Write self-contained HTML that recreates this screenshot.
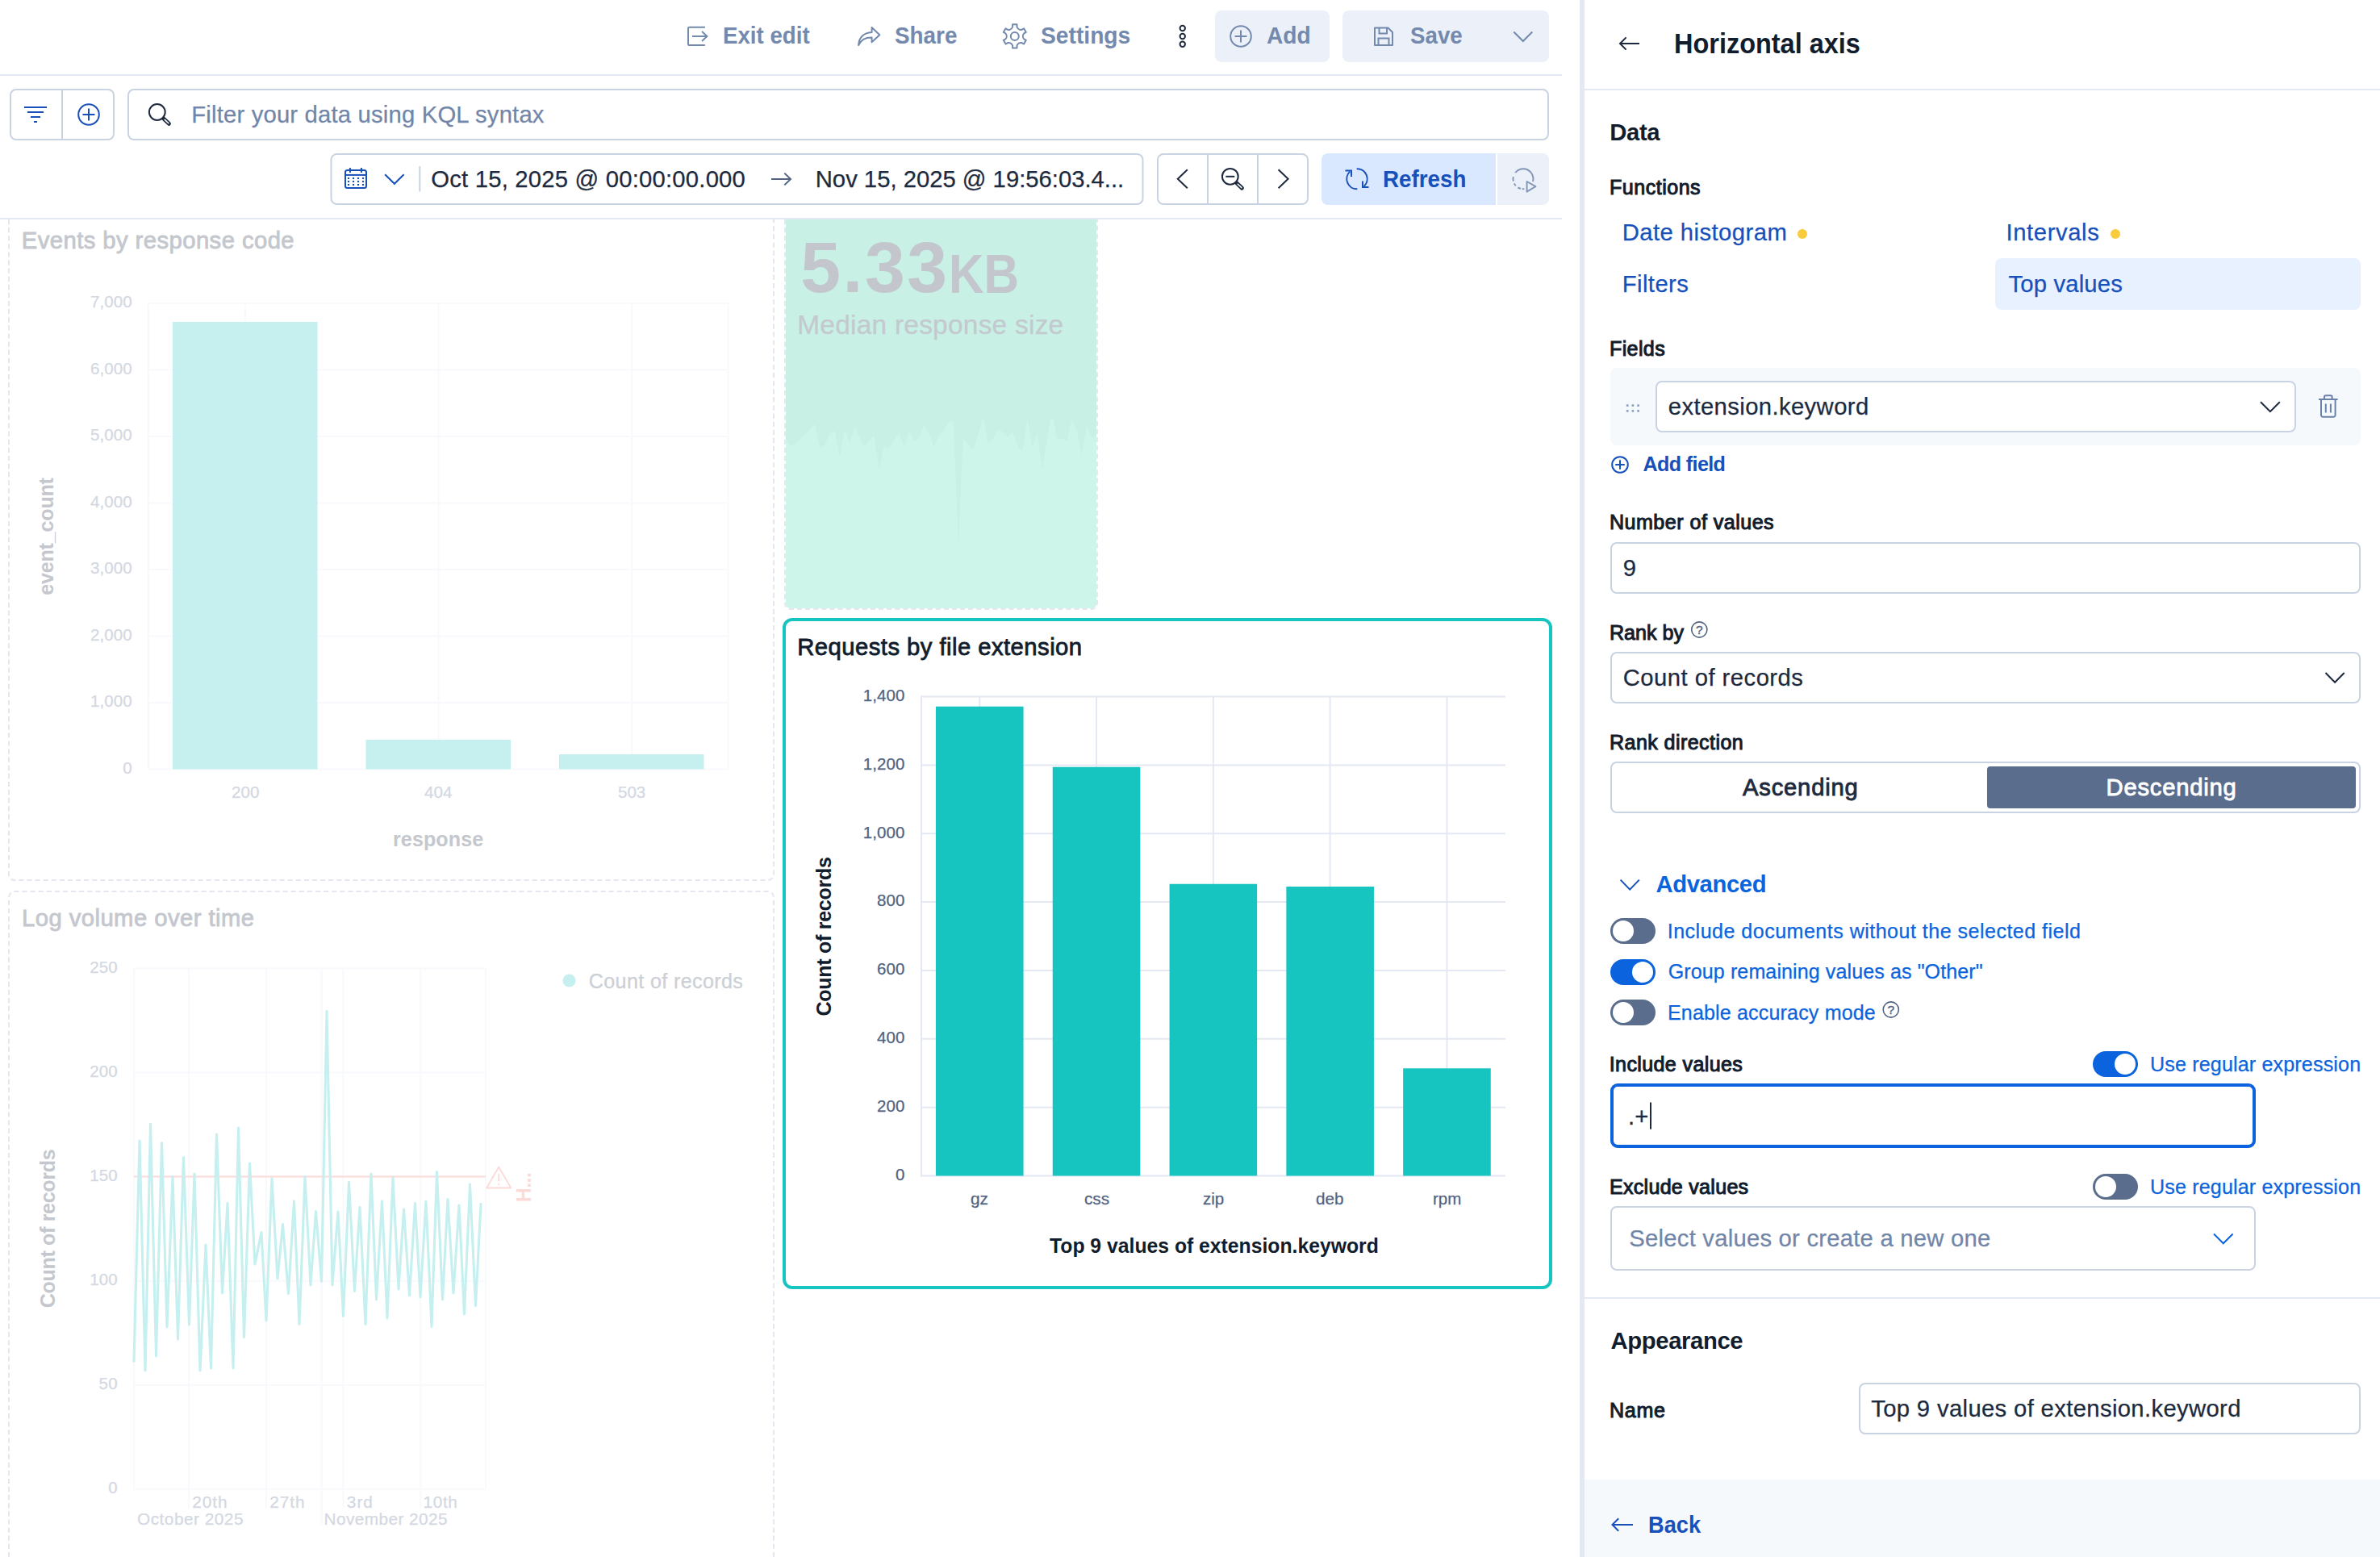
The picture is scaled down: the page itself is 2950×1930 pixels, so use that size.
<!DOCTYPE html>
<html lang="en"><head><meta charset="utf-8"><title>Dashboard - Horizontal axis</title>
<style>
html,body{margin:0;padding:0;background:#fff;}
body{width:2950px;height:1930px;position:relative;overflow:hidden;font-family:"Liberation Sans",sans-serif;}
.b{position:absolute;box-sizing:border-box;display:block;}
.t{position:absolute;white-space:nowrap;line-height:1;}
</style></head><body>
<svg class="b" style="left:0;top:0" width="2950" height="1930" viewBox="0 0 2950 1930" fill="none">
<rect x="0" y="92" width="1936" height="2" rx="0" fill="#E3E8F2" />
<rect x="0" y="270" width="1936" height="2" rx="0" fill="#E3E8F2" />
<path d="M873.9,33.8 H854.6 A1.6,1.6 0 0 0 853,35.4 V54.4 A1.6,1.6 0 0 0 854.6,56 H873.9" stroke="#7389AD" stroke-width="2" fill="none" />
<path d="M858,44.9 H876 M870,39.1 L876.4,44.9 L870,50.9" stroke="#7389AD" stroke-width="2" fill="none" />
<path d="M1080.6,34 L1090.3,43.2 L1080.6,52.3 V46.6 C1072.5,46.4 1067,49.6 1064.1,56 C1064.4,46.8 1070.5,40.6 1080.6,40.1 Z" stroke="#7389AD" stroke-width="2" fill="none" stroke-linejoin="round"/>
<path d="M1255.10,33.30 L1255.10,30.30 L1260.50,30.30 L1260.50,33.30 A5.2,5.2 0 0 0 1266.50,36.76 L1269.09,35.26 L1271.79,39.94 L1269.20,41.44 A5.2,5.2 0 0 0 1269.20,48.36 L1271.79,49.86 L1269.09,54.54 L1266.50,53.04 A5.2,5.2 0 0 0 1260.50,56.50 L1260.50,59.50 L1255.10,59.50 L1255.10,56.50 A5.2,5.2 0 0 0 1249.10,53.04 L1246.51,54.54 L1243.81,49.86 L1246.40,48.36 A5.2,5.2 0 0 0 1246.40,41.44 L1243.81,39.94 L1246.51,35.26 L1249.10,36.76 A5.2,5.2 0 0 0 1255.10,33.30 Z" stroke="#7389AD" stroke-width="2" fill="none" stroke-linejoin="round"/>
<circle cx="1257.8" cy="44.9" r="5.0" stroke="#7389AD" stroke-width="2" fill="none" />
<circle cx="1465.75" cy="35" r="3.2" stroke="#1D2A3E" stroke-width="2" fill="none" />
<circle cx="1465.75" cy="45" r="3.2" stroke="#1D2A3E" stroke-width="2" fill="none" />
<circle cx="1465.75" cy="54.75" r="3.2" stroke="#1D2A3E" stroke-width="2" fill="none" />
<rect x="1506" y="13" width="142" height="64" rx="8" fill="#ECF1F9" />
<circle cx="1538" cy="45" r="12.8" stroke="#7389AD" stroke-width="2" fill="none" />
<path d="M1530.5,45 H1545.5 M1538,37.5 V52.5" stroke="#7389AD" stroke-width="2" fill="none" />
<rect x="1664" y="13" width="256" height="64" rx="8" fill="#ECF1F9" />
<path d="M1704,34.5 H1720.5 L1726,40 V56 H1704 Z" stroke="#7389AD" stroke-width="2" fill="none" stroke-linejoin="round"/>
<path d="M1709.5,34.5 V41.5 H1719 V34.5 M1708.5,56 V47.5 H1721.5 V56" stroke="#7389AD" stroke-width="2" fill="none" />
<path d="M1876.3,39.5 L1887.8,51 L1899.3,39.5" stroke="#7389AD" stroke-width="2" fill="none" />
<rect x="13.0" y="111.0" width="128" height="62" rx="7.0" fill="#fff" stroke="#CAD3E2" stroke-width="2" />
<rect x="76" y="111" width="2" height="62" rx="0" fill="#CAD3E2" />
<path d="M30,133 H58 M34,139 H54 M38,145 H50 M42,151 H46" stroke="#1750BA" stroke-width="2" fill="none" />
<circle cx="110" cy="142" r="12.8" stroke="#1750BA" stroke-width="2" fill="none" />
<path d="M102.5,142 H117.5 M110,134.5 V149.5" stroke="#1750BA" stroke-width="2" fill="none" />
<rect x="159.0" y="111.0" width="1760" height="62" rx="7.0" fill="#fff" stroke="#CAD3E2" stroke-width="2" />
<circle cx="194.8" cy="139" r="9.9" stroke="#1D2A3E" stroke-width="2" fill="none" />
<path d="M203,147.2 L209.4,153.3" stroke="#1D2A3E" stroke-width="5" fill="none" stroke-linecap="round"/>
<path d="M204.2,148.4 L208.9,152.8" stroke="#fff" stroke-width="1.5" fill="none" stroke-linecap="round"/>
<rect x="410.5" y="191.0" width="1006.0" height="62" rx="7.0" fill="#fff" stroke="#CAD3E2" stroke-width="2" />
<rect x="428.0" y="211.0" width="26" height="22" rx="2.5" fill="none" stroke="#1750BA" stroke-width="2" />
<path d="M428,216.9 H454" stroke="#1750BA" stroke-width="2" fill="none" />
<path d="M433.9,208 V214 M447.9,208 V214" stroke="#1750BA" stroke-width="2" fill="none" />
<rect x="430.95" y="219.95" width="2.1000000000000227" height="2.1000000000000227" rx="0" fill="#1750BA" />
<rect x="430.95" y="223.95" width="2.1000000000000227" height="2.1000000000000227" rx="0" fill="#1750BA" />
<rect x="430.95" y="227.95" width="2.1000000000000227" height="2.1000000000000227" rx="0" fill="#1750BA" />
<rect x="436.95" y="219.95" width="2.1000000000000227" height="2.1000000000000227" rx="0" fill="#1750BA" />
<rect x="436.95" y="223.95" width="2.1000000000000227" height="2.1000000000000227" rx="0" fill="#1750BA" />
<rect x="436.95" y="227.95" width="2.1000000000000227" height="2.1000000000000227" rx="0" fill="#1750BA" />
<rect x="442.95" y="219.95" width="2.1000000000000227" height="2.1000000000000227" rx="0" fill="#1750BA" />
<rect x="442.95" y="223.95" width="2.1000000000000227" height="2.1000000000000227" rx="0" fill="#1750BA" />
<rect x="442.95" y="227.95" width="2.1000000000000227" height="2.1000000000000227" rx="0" fill="#1750BA" />
<rect x="448.95" y="219.95" width="2.1000000000000227" height="2.1000000000000227" rx="0" fill="#1750BA" />
<rect x="448.95" y="223.95" width="2.1000000000000227" height="2.1000000000000227" rx="0" fill="#1750BA" />
<rect x="448.95" y="227.95" width="2.1000000000000227" height="2.1000000000000227" rx="0" fill="#1750BA" />
<path d="M477.2,216.3 L488.9,227.8 L500.6,216.3" stroke="#1750BA" stroke-width="2" fill="none" />
<rect x="519.3" y="206" width="2.0" height="31.5" rx="0" fill="#CAD3E2" />
<path d="M956,222 H980 M972.3,214.6 L980,222 L972.3,229.4" stroke="#516381" stroke-width="2" fill="none" />
<rect x="1435.0" y="191.0" width="186" height="62" rx="7.0" fill="#fff" stroke="#CAD3E2" stroke-width="2" />
<rect x="1496" y="191" width="2" height="62" rx="0" fill="#CAD3E2" />
<rect x="1558" y="191" width="2" height="62" rx="0" fill="#CAD3E2" />
<path d="M1471.8,210.2 L1459.8,221.7 L1471.8,233.2" stroke="#1D2A3E" stroke-width="2" fill="none" />
<path d="M1584.6,210.2 L1596.6,221.7 L1584.6,233.2" stroke="#1D2A3E" stroke-width="2" fill="none" />
<circle cx="1524.8" cy="218.8" r="9.9" stroke="#1D2A3E" stroke-width="2" fill="none" />
<path d="M1519.3,218.8 H1530.3" stroke="#1D2A3E" stroke-width="2" fill="none" />
<path d="M1533,227 L1539.4,233.1" stroke="#1D2A3E" stroke-width="5" fill="none" stroke-linecap="round"/>
<path d="M1534.2,228.2 L1538.9,232.6" stroke="#fff" stroke-width="1.5" fill="none" stroke-linecap="round"/>
<path d="M1646,190 H1854 V254 H1646 A8,8 0 0 1 1638,246 V198 A8,8 0 0 1 1646,190 Z" stroke="none" stroke-width="2" fill="#D9E8FF" />
<path d="M1856,190 H1912 A8,8 0 0 1 1920,198 V246 A8,8 0 0 1 1912,254 H1856 Z" stroke="none" stroke-width="2" fill="#ECF1F9" />
<path d="M1682.3,234.3 A12.6,12.6 0 0 1 1673.2,212.6" stroke="#1750BA" stroke-width="2" fill="none" />
<path d="M1667.5,211.6 H1675 V219" stroke="#1750BA" stroke-width="2" fill="none" />
<path d="M1681.7,209.2 A12.6,12.6 0 0 1 1690.8,230.9" stroke="#1750BA" stroke-width="2" fill="none" />
<path d="M1696.5,231.9 H1689 V224.5" stroke="#1750BA" stroke-width="2" fill="none" />
<path d="M1878.15,214.00 A12.5,12.5 0 0 1 1900.07,224.94 M1875.82,224.51 A12.5,12.5 0 0 1 1875.77,219.10 M1878.86,230.22 A12.5,12.5 0 0 1 1876.86,227.37 M1884.98,233.83 A12.5,12.5 0 0 1 1881.38,232.30 M1889.31,234.13 A12.5,12.5 0 0 1 1886.69,234.13" stroke="#8497B8" stroke-width="2" fill="none" />
<path d="M1892.6,225 L1903.4,231.2 L1892.6,237.6 Z" stroke="#8497B8" stroke-width="2" fill="#ECF1F9" stroke-linejoin="round"/>
<path d="M11,272 V1084 A7,7 0 0 0 18,1091 H952 A7,7 0 0 0 959,1084 V272" stroke="#E4E7EF" stroke-width="2" fill="none" stroke-dasharray="6.2 3.9"/>
<line x1="184" y1="953.5" x2="902.5" y2="953.5" stroke="#F8F9FC" stroke-width="2" />
<line x1="184" y1="871.0" x2="902.5" y2="871.0" stroke="#F8F9FC" stroke-width="2" />
<line x1="184" y1="788.5" x2="902.5" y2="788.5" stroke="#F8F9FC" stroke-width="2" />
<line x1="184" y1="706.0" x2="902.5" y2="706.0" stroke="#F8F9FC" stroke-width="2" />
<line x1="184" y1="623.5" x2="902.5" y2="623.5" stroke="#F8F9FC" stroke-width="2" />
<line x1="184" y1="541.0" x2="902.5" y2="541.0" stroke="#F8F9FC" stroke-width="2" />
<line x1="184" y1="458.5" x2="902.5" y2="458.5" stroke="#F8F9FC" stroke-width="2" />
<line x1="184" y1="376.0" x2="902.5" y2="376.0" stroke="#F8F9FC" stroke-width="2" />
<line x1="184" y1="376" x2="184" y2="953.5" stroke="#F8F9FC" stroke-width="2" />
<line x1="304" y1="376" x2="304" y2="953.5" stroke="#F8F9FC" stroke-width="2" />
<line x1="543.5" y1="376" x2="543.5" y2="953.5" stroke="#F8F9FC" stroke-width="2" />
<line x1="783" y1="376" x2="783" y2="953.5" stroke="#F8F9FC" stroke-width="2" />
<line x1="902.5" y1="376" x2="902.5" y2="953.5" stroke="#F8F9FC" stroke-width="2" />
<rect x="214" y="399" width="179.5" height="554.5" rx="0" fill="#C5F0EF" />
<rect x="453.5" y="917" width="179.5" height="36.5" rx="0" fill="#C5F0EF" />
<rect x="693" y="935" width="179.5" height="18.5" rx="0" fill="#C5F0EF" />
<path d="M11,1930 V1112 A7,7 0 0 1 18,1105 H952 A7,7 0 0 1 959,1112 V1930" stroke="#E4E7EF" stroke-width="2" fill="none" stroke-dasharray="6.2 3.9"/>
<line x1="166" y1="1845.8" x2="602" y2="1845.8" stroke="#F8F9FC" stroke-width="2" />
<line x1="166" y1="1716.74" x2="602" y2="1716.74" stroke="#F8F9FC" stroke-width="2" />
<line x1="166" y1="1587.6799999999998" x2="602" y2="1587.6799999999998" stroke="#F8F9FC" stroke-width="2" />
<line x1="166" y1="1458.62" x2="602" y2="1458.62" stroke="#F8F9FC" stroke-width="2" />
<line x1="166" y1="1329.56" x2="602" y2="1329.56" stroke="#F8F9FC" stroke-width="2" />
<line x1="166" y1="1200.5" x2="602" y2="1200.5" stroke="#F8F9FC" stroke-width="2" />
<line x1="166.25" y1="1200.5" x2="166.25" y2="1845.8" stroke="#F8F9FC" stroke-width="2" />
<line x1="602" y1="1200.5" x2="602" y2="1845.8" stroke="#F8F9FC" stroke-width="2" />
<line x1="234.25" y1="1200.5" x2="234.25" y2="1869.5" stroke="#F8F9FC" stroke-width="2" />
<line x1="330" y1="1200.5" x2="330" y2="1869.5" stroke="#F8F9FC" stroke-width="2" />
<line x1="425.5" y1="1200.5" x2="425.5" y2="1869.5" stroke="#F8F9FC" stroke-width="2" />
<line x1="521.25" y1="1200.5" x2="521.25" y2="1869.5" stroke="#F8F9FC" stroke-width="2" />
<line x1="398.6" y1="1200.5" x2="398.6" y2="1889.5" stroke="#F8F9FC" stroke-width="2" />
<line x1="166" y1="1458.4" x2="602" y2="1458.4" stroke="#FCDAD7" stroke-width="2" />
<path d="M618.2,1446.5 L633.3,1472.5 H603.2 Z" stroke="#FCDAD7" stroke-width="1.8" fill="none" stroke-linejoin="round"/>
<path d="M618.2,1455 V1464.5 M618.2,1466.8 V1469.2" stroke="#FCDAD7" stroke-width="1.8" fill="none" />
<path d="M166.0,1687.5 L173.0,1414.0 L180.0,1699.0 L186.5,1393.0 L193.5,1681.0 L200.5,1416.5 L207.0,1645.0 L214.0,1458.5 L220.5,1660.0 L227.5,1434.5 L234.5,1642.0 L241.0,1455.0 L248.0,1699.0 L255.0,1543.0 L261.5,1696.0 L268.5,1406.0 L275.5,1603.0 L282.0,1491.5 L289.0,1696.0 L295.5,1398.0 L302.5,1657.5 L309.5,1442.0 L316.0,1567.0 L324.0,1527.5 L330.0,1637.0 L337.0,1461.0 L344.0,1585.0 L350.5,1517.5 L357.5,1603.5 L364.5,1489.0 L371.0,1641.5 L378.0,1458.5 L385.0,1593.0 L391.5,1501.5 L398.5,1588.5 L405.0,1253.5 L412.0,1593.0 L419.0,1502.0 L425.5,1631.5 L432.5,1465.5 L439.5,1600.5 L446.0,1496.5 L453.0,1641.5 L460.0,1455.0 L466.5,1611.0 L473.5,1489.0 L480.0,1634.0 L487.0,1460.0 L494.0,1598.0 L500.5,1499.0 L507.5,1606.0 L514.5,1491.5 L521.0,1608.0 L528.0,1489.0 L535.0,1644.5 L541.5,1452.5 L548.5,1611.0 L555.0,1486.5 L562.0,1603.0 L569.0,1494.0 L575.5,1629.0 L582.5,1468.0 L589.5,1618.5 L596.0,1492.5" stroke="#C5F0EF" stroke-width="3.1" fill="none" stroke-linejoin="round" stroke-linecap="round"/>
<circle cx="705.5" cy="1215.5" r="8" stroke="none" stroke-width="2" fill="#C5F0EF" />
<path d="M974,272 H1359 V748 A6,6 0 0 1 1353,754 H980 A6,6 0 0 1 974,748 Z" stroke="none" stroke-width="2" fill="#C8F0E4" />
<path d="M974,520 H1359 V748 A6,6 0 0 1 1353,754 H980 A6,6 0 0 1 974,748 Z" stroke="none" stroke-width="2" fill="#CEF5EA" />
<path d="M974,500 L973.8,544.3 L980.1,551.8 L986.3,550.6 L992.6,543.0 L998.8,538.5 L1010.1,525.5 L1016.4,555.6 L1022.6,551.1 L1028.9,536.8 L1034.7,534.3 L1040.9,565.6 L1047.2,533.0 L1053.2,549.3 L1059.5,529.3 L1065.2,541.8 L1071.5,553.1 L1077.8,545.1 L1083.5,540.0 L1089.8,581.9 L1096.0,553.1 L1102.1,555.6 L1108.3,545.6 L1114.6,536.8 L1120.8,554.3 L1127.1,534.3 L1133.4,546.1 L1139.1,543.5 L1145.4,526.8 L1151.7,538.0 L1157.4,553.6 L1163.4,540.5 L1169.7,533.5 L1176.0,522.5 L1181.7,521.8 L1184.7,595.7 L1188.0,678.3 L1191.2,595.7 L1194.2,543.5 L1200.5,552.6 L1206.3,557.6 L1212.5,538.5 L1218.5,515.5 L1224.8,549.3 L1231.1,543.0 L1237.3,531.8 L1243.1,536.0 L1249.3,541.8 L1255.1,535.0 L1261.4,554.3 L1267.4,559.3 L1273.6,518.5 L1279.7,555.6 L1285.7,536.0 L1291.9,582.6 L1298.2,543.0 L1304.0,511.0 L1310.2,543.5 L1316.2,543.5 L1322.5,546.8 L1328.3,520.5 L1334.5,533.0 L1340.8,564.3 L1347.0,528.0 L1352.8,541.8 L1358.8,540.5 L1359,500 Z" stroke="none" stroke-width="2" fill="#C8F0E4" />
<path d="M973,272 V748 A7,7 0 0 0 980,755 H1353 A7,7 0 0 0 1360,748 V272" stroke="#E6E8F0" stroke-width="2" fill="none" stroke-dasharray="6.2 3.9"/>
<rect x="972.0" y="768.0" width="950" height="828" rx="10.0" fill="#fff" stroke="#16C5C0" stroke-width="4" />
<line x1="1141" y1="1457.5" x2="1866" y2="1457.5" stroke="#E3E8F2" stroke-width="2" />
<line x1="1141" y1="1372.65" x2="1866" y2="1372.65" stroke="#E3E8F2" stroke-width="2" />
<line x1="1141" y1="1287.8" x2="1866" y2="1287.8" stroke="#E3E8F2" stroke-width="2" />
<line x1="1141" y1="1202.95" x2="1866" y2="1202.95" stroke="#E3E8F2" stroke-width="2" />
<line x1="1141" y1="1118.1" x2="1866" y2="1118.1" stroke="#E3E8F2" stroke-width="2" />
<line x1="1141" y1="1033.25" x2="1866" y2="1033.25" stroke="#E3E8F2" stroke-width="2" />
<line x1="1141" y1="948.4000000000001" x2="1866" y2="948.4000000000001" stroke="#E3E8F2" stroke-width="2" />
<line x1="1141" y1="863.5500000000001" x2="1866" y2="863.5500000000001" stroke="#E3E8F2" stroke-width="2" />
<line x1="1142" y1="862.6" x2="1142" y2="1458.5" stroke="#E3E8F2" stroke-width="2" />
<line x1="1214.25" y1="863.5" x2="1214.25" y2="1457.5" stroke="#E3E8F2" stroke-width="2" />
<line x1="1359.05" y1="863.5" x2="1359.05" y2="1457.5" stroke="#E3E8F2" stroke-width="2" />
<line x1="1503.85" y1="863.5" x2="1503.85" y2="1457.5" stroke="#E3E8F2" stroke-width="2" />
<line x1="1648.65" y1="863.5" x2="1648.65" y2="1457.5" stroke="#E3E8F2" stroke-width="2" />
<line x1="1793.45" y1="863.5" x2="1793.45" y2="1457.5" stroke="#E3E8F2" stroke-width="2" />
<rect x="1159.95" y="875.75" width="108.59999999999991" height="581.75" rx="0" fill="#16C5C0" />
<rect x="1304.75" y="950.75" width="108.59999999999991" height="506.75" rx="0" fill="#16C5C0" />
<rect x="1449.55" y="1095.75" width="108.59999999999991" height="361.75" rx="0" fill="#16C5C0" />
<rect x="1594.3500000000001" y="1099" width="108.59999999999991" height="358.5" rx="0" fill="#16C5C0" />
<rect x="1739.15" y="1324.3" width="108.59999999999991" height="133.20000000000005" rx="0" fill="#16C5C0" />
<rect x="1958" y="0" width="6" height="1930" rx="0" fill="#E3E8F2" />
<rect x="1964" y="0" width="986" height="1930" rx="0" fill="#fff" />
<rect x="1964" y="110" width="986" height="2" rx="0" fill="#E3E8F2" />
<path d="M2008,54 H2032 M2015.6,46.4 L2008,54 L2015.6,61.6" stroke="#1D2A3E" stroke-width="2" fill="none" />
<circle cx="2234" cy="290" r="6" stroke="none" stroke-width="2" fill="#FACB3D" />
<circle cx="2622" cy="290" r="6" stroke="none" stroke-width="2" fill="#FACB3D" />
<rect x="2473" y="320" width="453" height="64" rx="8" fill="#E8F1FF" />
<rect x="1996" y="456" width="930" height="96" rx="8" fill="#F6F9FC" />
<rect x="2015.9" y="501.3" width="2.599999999999909" height="2.6000000000000227" rx="0" fill="#8A9CBB" />
<rect x="2015.9" y="508.09999999999997" width="2.599999999999909" height="2.6000000000000227" rx="0" fill="#8A9CBB" />
<rect x="2022.6000000000001" y="501.3" width="2.599999999999909" height="2.6000000000000227" rx="0" fill="#8A9CBB" />
<rect x="2022.6000000000001" y="508.09999999999997" width="2.599999999999909" height="2.6000000000000227" rx="0" fill="#8A9CBB" />
<rect x="2029.3" y="501.3" width="2.599999999999909" height="2.6000000000000227" rx="0" fill="#8A9CBB" />
<rect x="2029.3" y="508.09999999999997" width="2.599999999999909" height="2.6000000000000227" rx="0" fill="#8A9CBB" />
<rect x="2053.0" y="473.0" width="792" height="62" rx="7.0" fill="#fff" stroke="#CAD3E2" stroke-width="2" />
<path d="M2802,498.3 L2813.9,510.2 L2825.8,498.3" stroke="#1D2A3E" stroke-width="2" fill="none" />
<path d="M2874,495 H2897.6" stroke="#6B82A8" stroke-width="2" fill="none" />
<path d="M2881,495 V492 A1.8,1.8 0 0 1 2882.8,490.2 H2888.8 A1.8,1.8 0 0 1 2890.6,492 V495" stroke="#6B82A8" stroke-width="2" fill="none" />
<path d="M2877,495 V514.6 A2.2,2.2 0 0 0 2879.2,516.8 H2892.4 A2.2,2.2 0 0 0 2894.6,514.6 V495" stroke="#6B82A8" stroke-width="2" fill="none" />
<path d="M2882.8,500.4 V511.6 M2888.9,500.4 V511.6" stroke="#6B82A8" stroke-width="2" fill="none" />
<circle cx="2008" cy="576" r="9.8" stroke="#1750BA" stroke-width="2" fill="none" />
<path d="M2002.2,576 H2013.8 M2008,570.2 V581.8" stroke="#1750BA" stroke-width="2" fill="none" />
<rect x="1997.0" y="673.0" width="928" height="62" rx="7.0" fill="#fff" stroke="#CAD3E2" stroke-width="2" />
<circle cx="2106.3" cy="780.5" r="9.6" stroke="#516381" stroke-width="1.6" fill="none" />
<rect x="1997.0" y="809.0" width="928" height="62" rx="7.0" fill="#fff" stroke="#CAD3E2" stroke-width="2" />
<path d="M2882.5,834 L2894.1,845.8 L2905.7,834" stroke="#1D2A3E" stroke-width="2" fill="none" />
<rect x="1997.0" y="945.0" width="928" height="62" rx="7.0" fill="#fff" stroke="#CAD3E2" stroke-width="2" />
<rect x="2463" y="950" width="457" height="52" rx="4" fill="#5A6D8C" />
<path d="M2008.6,1090.6 L2020.2,1102.6 L2031.8,1090.6" stroke="#1750BA" stroke-width="2" fill="none" />
<rect x="1996" y="1138" width="56" height="32" rx="16" fill="#5A6D8C" />
<circle cx="2012" cy="1154" r="13" stroke="none" stroke-width="2" fill="#fff" />
<rect x="1996" y="1189" width="56" height="32" rx="16" fill="#0B64DD" />
<circle cx="2036" cy="1205" r="13" stroke="none" stroke-width="2" fill="#fff" />
<rect x="1996" y="1239" width="56" height="32" rx="16" fill="#5A6D8C" />
<circle cx="2012" cy="1255" r="13" stroke="none" stroke-width="2" fill="#fff" />
<circle cx="2343.8" cy="1251.5" r="9.6" stroke="#516381" stroke-width="1.6" fill="none" />
<rect x="2594" y="1303" width="56" height="32" rx="16" fill="#0B64DD" />
<circle cx="2634" cy="1319" r="13" stroke="none" stroke-width="2" fill="#fff" />
<rect x="1998.0" y="1345.0" width="796" height="76" rx="7.0" fill="#fff" stroke="#0B64DD" stroke-width="4" />
<rect x="2045" y="1366.5" width="2" height="33.200000000000045" rx="0" fill="#1D2A3E" />
<rect x="2594" y="1455" width="56" height="32" rx="16" fill="#5A6D8C" />
<circle cx="2610" cy="1471" r="13" stroke="none" stroke-width="2" fill="#fff" />
<rect x="1997.0" y="1496.0" width="798" height="78" rx="7.0" fill="#fff" stroke="#CAD3E2" stroke-width="2" />
<path d="M2744,1529.5 L2755.8,1541.3 L2767.6,1529.5" stroke="#0B64DD" stroke-width="2" fill="none" />
<rect x="1964" y="1608" width="986" height="2" rx="0" fill="#E3E8F2" />
<rect x="2305.0" y="1715.0" width="620" height="62" rx="7.0" fill="#fff" stroke="#CAD3E2" stroke-width="2" />
<rect x="1964" y="1834" width="986" height="96" rx="0" fill="#F6F9FC" />
<path d="M1998.5,1890 H2024 M2006.2,1882.3 L1998.5,1890 L2006.2,1897.7" stroke="#1750BA" stroke-width="2" fill="none" />
</svg>
<div class="t " style="left:896.34px;top:30.03px;font-size:29.26px;color:#7389AD;font-weight:700;transform:scaleX(0.9460);transform-origin:0 0;">Exit edit</div>
<div class="t " style="left:1108.79px;top:30.03px;font-size:29.26px;color:#7389AD;font-weight:700;transform:scaleX(0.9527);transform-origin:0 0;">Share</div>
<div class="t " style="left:1290.28px;top:30.03px;font-size:29.26px;color:#7389AD;font-weight:700;transform:scaleX(0.9644);transform-origin:0 0;">Settings</div>
<div class="t " style="left:1569.52px;top:30.03px;font-size:29.26px;color:#7389AD;font-weight:700;transform:scaleX(0.9630);transform-origin:0 0;">Add</div>
<div class="t " style="left:1748.04px;top:30.03px;font-size:29.26px;color:#7389AD;font-weight:700;transform:scaleX(0.9472);transform-origin:0 0;">Save</div>
<div class="t " style="left:237.25px;top:128.33px;font-size:29.26px;color:#7186A8;letter-spacing:0.183px;-webkit-text-stroke:0.25px #7186A8;">Filter your data using KQL syntax</div>
<div class="t " style="left:534.25px;top:207.58px;font-size:29.26px;color:#1D2A3E;letter-spacing:0.207px;-webkit-text-stroke:0.25px #1D2A3E;">Oct 15, 2025 @ 00:00:00.000</div>
<div class="t " style="left:1010.75px;top:207.58px;font-size:29.26px;color:#1D2A3E;letter-spacing:-0.005px;-webkit-text-stroke:0.25px #1D2A3E;">Nov 15, 2025 @ 19:56:03.4...</div>
<div class="t " style="left:1714.34px;top:207.58px;font-size:29.26px;color:#1750BA;font-weight:700;transform:scaleX(0.9499);transform-origin:0 0;">Refresh</div>
<div class="t " style="left:26.75px;top:284.33px;font-size:29.26px;color:#C4C7CE;letter-spacing:0.427px;-webkit-text-stroke:0.8px #C4C7CE;">Events by response code</div>
<div class="t " style="left:152.25px;top:941.79px;font-size:20.5px;color:#D3D8E2;-webkit-text-stroke:0.25px #D3D8E2;">0</div>
<div class="t " style="left:112.06px;top:859.29px;font-size:20.5px;color:#D3D8E2;letter-spacing:0.047px;-webkit-text-stroke:0.25px #D3D8E2;">1,000</div>
<div class="t " style="left:112.05px;top:776.79px;font-size:20.5px;color:#D3D8E2;letter-spacing:0.051px;-webkit-text-stroke:0.25px #D3D8E2;">2,000</div>
<div class="t " style="left:112.04px;top:694.29px;font-size:20.5px;color:#D3D8E2;letter-spacing:0.053px;-webkit-text-stroke:0.25px #D3D8E2;">3,000</div>
<div class="t " style="left:112.02px;top:611.79px;font-size:20.5px;color:#D3D8E2;letter-spacing:0.057px;-webkit-text-stroke:0.25px #D3D8E2;">4,000</div>
<div class="t " style="left:112.04px;top:529.29px;font-size:20.5px;color:#D3D8E2;letter-spacing:0.053px;-webkit-text-stroke:0.25px #D3D8E2;">5,000</div>
<div class="t " style="left:112.05px;top:446.79px;font-size:20.5px;color:#D3D8E2;letter-spacing:0.051px;-webkit-text-stroke:0.25px #D3D8E2;">6,000</div>
<div class="t " style="left:112.05px;top:364.29px;font-size:20.5px;color:#D3D8E2;letter-spacing:0.051px;-webkit-text-stroke:0.25px #D3D8E2;">7,000</div>
<div class="t " style="left:286.67px;top:971.02px;font-size:21px;color:#D3D8E2;transform:scaleX(0.9835);transform-origin:0 0;-webkit-text-stroke:0.25px #D3D8E2;">200</div>
<div class="t " style="left:526.39px;top:971.02px;font-size:21px;color:#D3D8E2;transform:scaleX(0.9849);transform-origin:0 0;-webkit-text-stroke:0.25px #D3D8E2;">404</div>
<div class="t " style="left:765.92px;top:971.02px;font-size:21px;color:#D3D8E2;transform:scaleX(0.9762);transform-origin:0 0;-webkit-text-stroke:0.25px #D3D8E2;">503</div>
<div class="t " style="left:487.00px;top:1028.37px;font-size:25.08px;color:#C4C7CE;font-weight:700;letter-spacing:0.093px;">response</div>
<div class="t" style="left:58.20px;top:665.00px;font-size:25.08px;color:#C4C7CE;transform:translate(-50%,-50%) rotate(-90deg);font-weight:700;letter-spacing:-0.197px;margin-right:0.197px;">event_count</div>
<div class="t " style="left:27.00px;top:1123.83px;font-size:29.26px;color:#C4C7CE;letter-spacing:0.442px;-webkit-text-stroke:0.8px #C4C7CE;">Log volume over time</div>
<div class="t " style="left:134.25px;top:1834.09px;font-size:20.5px;color:#D3D8E2;-webkit-text-stroke:0.25px #D3D8E2;">0</div>
<div class="t " style="left:122.62px;top:1705.03px;font-size:20.5px;color:#D3D8E2;letter-spacing:0.130px;-webkit-text-stroke:0.25px #D3D8E2;">50</div>
<div class="t " style="left:111.31px;top:1575.97px;font-size:20.5px;color:#D3D8E2;letter-spacing:0.094px;-webkit-text-stroke:0.25px #D3D8E2;">100</div>
<div class="t " style="left:111.31px;top:1446.91px;font-size:20.5px;color:#D3D8E2;letter-spacing:0.094px;-webkit-text-stroke:0.25px #D3D8E2;">150</div>
<div class="t " style="left:111.30px;top:1317.85px;font-size:20.5px;color:#D3D8E2;letter-spacing:0.101px;-webkit-text-stroke:0.25px #D3D8E2;">200</div>
<div class="t " style="left:111.30px;top:1188.79px;font-size:20.5px;color:#D3D8E2;letter-spacing:0.101px;-webkit-text-stroke:0.25px #D3D8E2;">250</div>
<div class="t" style="left:648.60px;top:1471.50px;font-size:25px;color:#FCDAD7;transform:translate(-50%,-50%) rotate(-90deg);font-weight:700;letter-spacing:-0.583px;margin-right:0.583px;">H...</div>
<div class="t " style="left:729.75px;top:1203.87px;font-size:25.08px;color:#C4C7CE;letter-spacing:0.378px;-webkit-text-stroke:0.25px #C4C7CE;color:#CDD1D8;">Count of records</div>
<div class="t" style="left:60.20px;top:1522.50px;font-size:25.08px;color:#C4C7CE;transform:translate(-50%,-50%) rotate(-90deg);font-weight:700;letter-spacing:-0.343px;margin-right:0.343px;">Count of records</div>
<div class="t " style="left:238.30px;top:1852.49px;font-size:20.8px;color:#D3D8E2;letter-spacing:0.969px;-webkit-text-stroke:0.25px #D3D8E2;">20th</div>
<div class="t " style="left:334.20px;top:1852.49px;font-size:20.8px;color:#D3D8E2;letter-spacing:0.969px;-webkit-text-stroke:0.25px #D3D8E2;">27th</div>
<div class="t " style="left:429.85px;top:1852.49px;font-size:20.8px;color:#D3D8E2;letter-spacing:0.966px;-webkit-text-stroke:0.25px #D3D8E2;">3rd</div>
<div class="t " style="left:524.50px;top:1852.49px;font-size:20.8px;color:#D3D8E2;letter-spacing:0.637px;-webkit-text-stroke:0.25px #D3D8E2;">10th</div>
<div class="t " style="left:170.00px;top:1872.99px;font-size:20.8px;color:#D3D8E2;letter-spacing:0.496px;-webkit-text-stroke:0.25px #D3D8E2;">October 2025</div>
<div class="t " style="left:401.50px;top:1872.99px;font-size:20.8px;color:#D3D8E2;letter-spacing:0.429px;-webkit-text-stroke:0.25px #D3D8E2;">November 2025</div>
<div class="t " style="left:992.25px;top:286.84px;font-size:89.5px;color:#C3C6CD;font-weight:700;letter-spacing:2.500px;">5.33</div>
<div class="t " style="left:1175.51px;top:305.04px;font-size:68px;color:#C3C6CD;font-weight:700;transform:scaleX(0.8871);transform-origin:0 0;">KB</div>
<div class="t " style="left:988.25px;top:386.04px;font-size:33.44px;color:#C3C9CF;letter-spacing:0.254px;-webkit-text-stroke:0.25px #C3C9CF;">Median response size</div>
<div class="t " style="left:988.25px;top:787.58px;font-size:29.26px;color:#111C2C;letter-spacing:0.455px;-webkit-text-stroke:0.8px #111C2C;">Requests by file extension</div>
<div class="t " style="left:1110.00px;top:1445.79px;font-size:20.5px;color:#516381;-webkit-text-stroke:0.25px #516381;">0</div>
<div class="t " style="left:1087.05px;top:1360.94px;font-size:20.5px;color:#516381;letter-spacing:0.101px;-webkit-text-stroke:0.25px #516381;">200</div>
<div class="t " style="left:1087.03px;top:1276.09px;font-size:20.5px;color:#516381;letter-spacing:0.113px;-webkit-text-stroke:0.25px #516381;">400</div>
<div class="t " style="left:1087.05px;top:1191.24px;font-size:20.5px;color:#516381;letter-spacing:0.101px;-webkit-text-stroke:0.25px #516381;">600</div>
<div class="t " style="left:1087.04px;top:1106.39px;font-size:20.5px;color:#516381;letter-spacing:0.105px;-webkit-text-stroke:0.25px #516381;">800</div>
<div class="t " style="left:1069.81px;top:1021.54px;font-size:20.5px;color:#516381;letter-spacing:0.047px;-webkit-text-stroke:0.25px #516381;">1,000</div>
<div class="t " style="left:1069.81px;top:936.69px;font-size:20.5px;color:#516381;letter-spacing:0.047px;-webkit-text-stroke:0.25px #516381;">1,200</div>
<div class="t " style="left:1069.81px;top:851.84px;font-size:20.5px;color:#516381;letter-spacing:0.047px;-webkit-text-stroke:0.25px #516381;">1,400</div>
<div class="t " style="left:1203.33px;top:1475.22px;font-size:21px;color:#516381;transform:scaleX(0.9923);transform-origin:0 0;-webkit-text-stroke:0.25px #516381;">gz</div>
<div class="t " style="left:1343.50px;top:1475.22px;font-size:21px;color:#516381;transform:scaleX(0.9871);transform-origin:0 0;-webkit-text-stroke:0.25px #516381;">css</div>
<div class="t " style="left:1490.63px;top:1475.22px;font-size:21px;color:#516381;transform:scaleX(0.9795);transform-origin:0 0;-webkit-text-stroke:0.25px #516381;">zip</div>
<div class="t " style="left:1631.43px;top:1475.22px;font-size:21px;color:#516381;transform:scaleX(0.9839);transform-origin:0 0;-webkit-text-stroke:0.25px #516381;">deb</div>
<div class="t " style="left:1775.75px;top:1475.22px;font-size:21px;color:#516381;transform:scaleX(0.9766);transform-origin:0 0;-webkit-text-stroke:0.25px #516381;">rpm</div>
<div class="t " style="left:1300.76px;top:1532.31px;font-size:25.5px;color:#111C2C;font-weight:700;transform:scaleX(0.9701);transform-origin:0 0;">Top 9 values of extension.keyword</div>
<div class="t" style="left:1021.50px;top:1160.60px;font-size:25.08px;color:#111C2C;transform:translate(-50%,-50%) rotate(-90deg);font-weight:700;letter-spacing:-0.309px;margin-right:0.309px;">Count of records</div>
<div class="t " style="left:2075.43px;top:36.30px;font-size:35.2px;color:#111C2C;font-weight:700;transform:scaleX(0.9224);transform-origin:0 0;">Horizontal axis</div>
<div class="t " style="left:1995.25px;top:149.58px;font-size:29.26px;color:#111C2C;font-weight:700;letter-spacing:-0.340px;">Data</div>
<div class="t " style="left:1994.99px;top:219.87px;font-size:25.08px;color:#111C2C;letter-spacing:0.489px;-webkit-text-stroke:1.0px #111C2C;">Functions</div>
<div class="t " style="left:2010.75px;top:273.83px;font-size:29.26px;color:#1750BA;letter-spacing:0.437px;-webkit-text-stroke:0.25px #1750BA;">Date histogram</div>
<div class="t " style="left:2486.50px;top:273.83px;font-size:29.26px;color:#1750BA;letter-spacing:0.589px;-webkit-text-stroke:0.25px #1750BA;">Intervals</div>
<div class="t " style="left:2010.75px;top:337.83px;font-size:29.26px;color:#1750BA;letter-spacing:0.412px;-webkit-text-stroke:0.25px #1750BA;">Filters</div>
<div class="t " style="left:2489.50px;top:337.83px;font-size:29.26px;color:#1750BA;letter-spacing:0.161px;-webkit-text-stroke:0.25px #1750BA;">Top values</div>
<div class="t " style="left:1994.99px;top:419.87px;font-size:25.08px;color:#111C2C;letter-spacing:0.359px;-webkit-text-stroke:1.0px #111C2C;">Fields</div>
<div class="t " style="left:2067.75px;top:490.33px;font-size:29.26px;color:#1D2A3E;letter-spacing:0.386px;-webkit-text-stroke:0.25px #1D2A3E;">extension.keyword</div>
<div class="t " style="left:2036.50px;top:563.12px;font-size:25.08px;color:#1750BA;font-weight:700;letter-spacing:-0.604px;">Add field</div>
<div class="t " style="left:1994.99px;top:635.37px;font-size:25.08px;color:#111C2C;letter-spacing:0.475px;-webkit-text-stroke:1.0px #111C2C;">Number of values</div>
<div class="t " style="left:2011.75px;top:689.83px;font-size:29.26px;color:#1D2A3E;-webkit-text-stroke:0.25px #1D2A3E;">9</div>
<div class="t " style="left:1994.99px;top:771.77px;font-size:25.08px;color:#111C2C;letter-spacing:-0.006px;-webkit-text-stroke:1.0px #111C2C;">Rank by</div>
<div class="t " style="left:2101.93px;top:773.38px;font-size:15.5px;color:#516381;-webkit-text-stroke:0.4px #516381;">?</div>
<div class="t " style="left:2011.75px;top:825.83px;font-size:29.26px;color:#1D2A3E;letter-spacing:0.462px;-webkit-text-stroke:0.25px #1D2A3E;">Count of records</div>
<div class="t " style="left:1994.99px;top:907.97px;font-size:25.08px;color:#111C2C;letter-spacing:0.423px;-webkit-text-stroke:1.0px #111C2C;">Rank direction</div>
<div class="t " style="left:2160.10px;top:961.83px;font-size:29.26px;color:#1D2A3E;letter-spacing:0.750px;-webkit-text-stroke:0.85px #1D2A3E;">Ascending</div>
<div class="t " style="left:2610.55px;top:961.83px;font-size:29.26px;color:#fff;letter-spacing:0.761px;-webkit-text-stroke:0.85px #fff;">Descending</div>
<div class="t " style="left:2052.50px;top:1081.83px;font-size:29.26px;color:#0B64DD;font-weight:700;letter-spacing:-0.392px;">Advanced</div>
<div class="t " style="left:2066.74px;top:1141.67px;font-size:25.08px;color:#0B64DD;letter-spacing:0.468px;-webkit-text-stroke:0.25px #0B64DD;">Include documents without the selected field</div>
<div class="t " style="left:2067.75px;top:1192.37px;font-size:25.08px;color:#0B64DD;letter-spacing:0.085px;-webkit-text-stroke:0.25px #0B64DD;">Group remaining values as "Other"</div>
<div class="t " style="left:2066.99px;top:1242.67px;font-size:25.08px;color:#0B64DD;letter-spacing:0.142px;-webkit-text-stroke:0.25px #0B64DD;">Enable accuracy mode</div>
<div class="t " style="left:2339.43px;top:1244.38px;font-size:15.5px;color:#516381;-webkit-text-stroke:0.4px #516381;">?</div>
<div class="t " style="left:1994.74px;top:1306.77px;font-size:25.08px;color:#111C2C;letter-spacing:0.365px;-webkit-text-stroke:1.0px #111C2C;">Include values</div>
<div class="t " style="left:2665.04px;top:1306.77px;font-size:25.08px;color:#0B64DD;letter-spacing:0.152px;-webkit-text-stroke:0.25px #0B64DD;">Use regular expression</div>
<div class="t " style="left:2018.10px;top:1369.83px;font-size:29.26px;color:#1D2A3E;-webkit-text-stroke:0.25px #1D2A3E;">.+</div>
<div class="t " style="left:1994.99px;top:1458.87px;font-size:25.08px;color:#111C2C;letter-spacing:0.267px;-webkit-text-stroke:1.0px #111C2C;">Exclude values</div>
<div class="t " style="left:2665.04px;top:1458.87px;font-size:25.08px;color:#0B64DD;letter-spacing:0.152px;-webkit-text-stroke:0.25px #0B64DD;">Use regular expression</div>
<div class="t " style="left:2019.35px;top:1520.83px;font-size:29.26px;color:#7186A8;letter-spacing:0.227px;-webkit-text-stroke:0.25px #7186A8;">Select values or create a new one</div>
<div class="t " style="left:1996.50px;top:1648.23px;font-size:29.26px;color:#111C2C;font-weight:700;letter-spacing:-0.367px;">Appearance</div>
<div class="t " style="left:1994.99px;top:1735.87px;font-size:25.08px;color:#111C2C;letter-spacing:0.682px;-webkit-text-stroke:1.0px #111C2C;">Name</div>
<div class="t " style="left:2319.20px;top:1731.83px;font-size:29.26px;color:#1D2A3E;letter-spacing:0.347px;-webkit-text-stroke:0.25px #1D2A3E;">Top 9 values of extension.keyword</div>
<div class="t " style="left:2043.37px;top:1875.53px;font-size:29.26px;color:#1750BA;font-weight:700;transform:scaleX(0.9311);transform-origin:0 0;">Back</div>
</body></html>
